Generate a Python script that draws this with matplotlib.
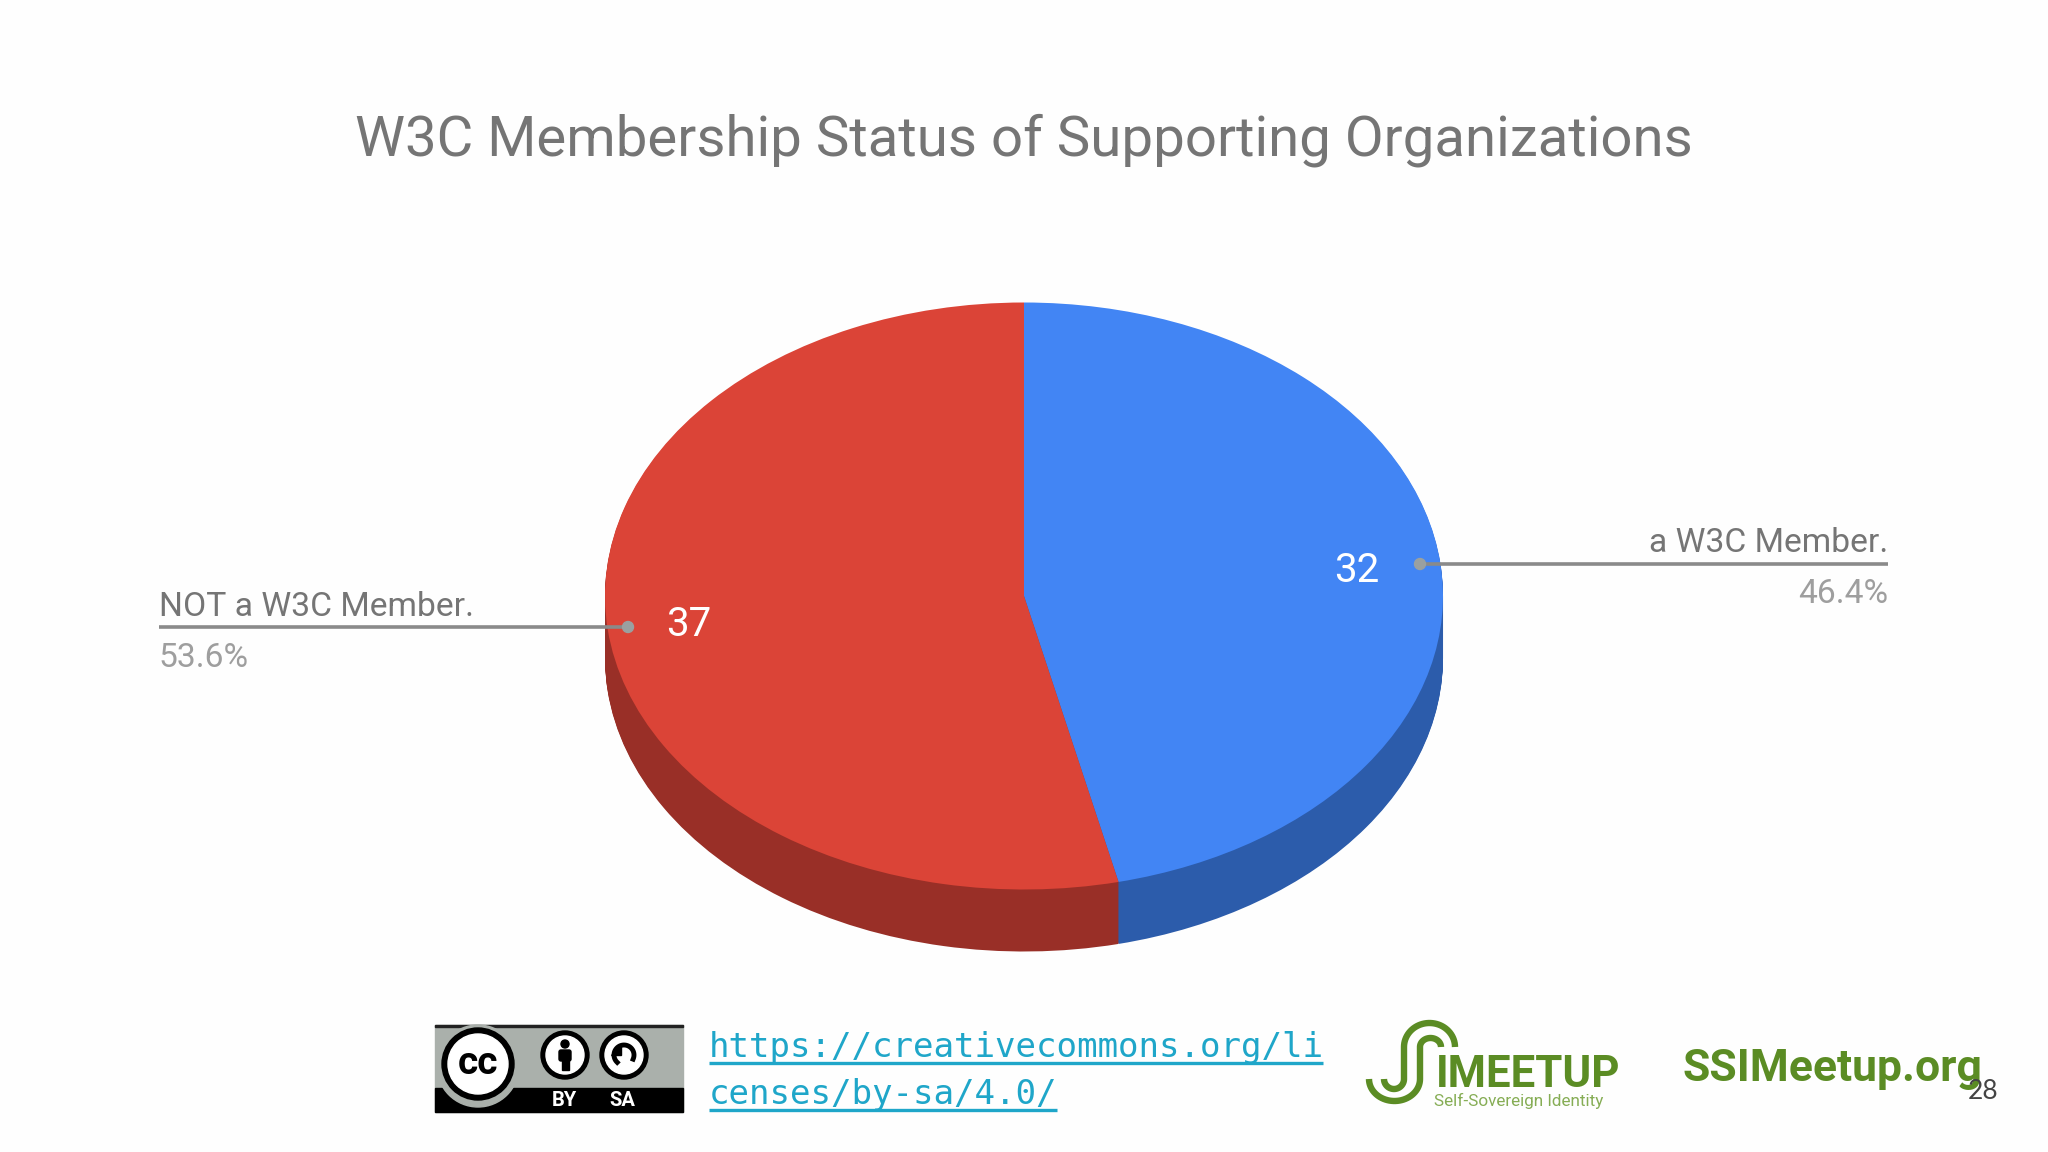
import numpy as np
import matplotlib
matplotlib.use('Agg')
import matplotlib.pyplot as plt
from matplotlib.patches import Circle, Rectangle, FancyBboxPatch

# chart data
title = 'W3C Membership Status of Supporting Organizations'
labels = ['a W3C Member.', 'NOT a W3C Member.']
values = [32, 37]
percents = ['46.4%', '53.6%']
top_colors = ['#4285f4', '#db4437']
side_colors = ['#2c5cab', '#992f27']

link_lines = ['https://creativecommons.org/li', 'censes/by-sa/4.0/']
green = '#5b8c24'

plt.rcParams['font.family'] = ['Roboto', 'DejaVu Sans']

W, H = 2048, 1152
fig = plt.figure(figsize=(W / 100, H / 100), dpi=100, facecolor='#fefefe')

# pie axes: top ellipse is 419 x 293 px around (1024, 596)
cx, cy, rx, ry, depth = 1024, 596, 419, 293.5, 62
pie_ax = fig.add_axes([(cx - rx) / W, 1 - (cy + ry + depth) / H, 2 * rx / W, (2 * ry + depth) / H])

# stack of dark pies makes the side wall
for off in np.arange(depth, 0, -1.0):
    pie_ax.pie(values, colors=side_colors, startangle=90, counterclock=False,
               center=(0, -off / ry), wedgeprops={'linewidth': 0})
pie_ax.pie(values, colors=top_colors, startangle=90, counterclock=False,
           center=(0, 0), wedgeprops={'linewidth': 0})
pie_ax.set_aspect('auto')
pie_ax.set_xlim(-1, 1)
pie_ax.set_ylim(-1 - depth / ry, 1)

# overlay in pixel coordinates
ax = fig.add_axes([0, 0, 1, 1], facecolor='none')
ax.set_xlim(0, W)
ax.set_ylim(H, 0)
ax.axis('off')

ax.text(1024, 140, title, color='#757575', fontsize=40.6, ha='center', va='center')

# callouts
ax.plot([1420, 1888], [564, 564], color='#8a8a8a', lw=2.6, solid_capstyle='butt')
ax.plot([159, 628], [627, 627], color='#8a8a8a', lw=2.6, solid_capstyle='butt')
ax.add_patch(Circle((1420, 564), 5.5, color='#9aa0a0', zorder=3))
ax.add_patch(Circle((628, 627), 5.5, color='#9aa0a0', zorder=3))

ax.text(1888, 552, labels[0], color='#757575', fontsize=24.2, ha='right', va='baseline')
ax.text(1888, 603, percents[0], color='#9e9e9e', fontsize=24.2, ha='right', va='baseline')
ax.text(159, 616, labels[1], color='#757575', fontsize=24.2, ha='left', va='baseline')
ax.text(158, 667, percents[1], color='#9e9e9e', fontsize=24.2, ha='left', va='baseline')
ax.text(1357, 570, str(values[0]), color='white', fontsize=29, ha='center', va='center')
ax.text(689, 624, str(values[1]), color='white', fontsize=29, ha='center', va='center')

# CC BY-SA badge
ax.add_patch(Rectangle((435, 1025), 248, 87, color='#aab0ab', zorder=2))
ax.add_patch(Rectangle((435, 1025), 248, 2, color='#222222', zorder=2))
ax.add_patch(Rectangle((435, 1088), 248, 24, color='black', zorder=2))
ax.add_patch(Circle((478, 1066), 41, color='#aab0ab', zorder=3))
ax.add_patch(Circle((478, 1064), 36, color='black', zorder=3))
ax.add_patch(Circle((478, 1064), 30, color='white', zorder=3))
ax.text(478, 1064, 'cc', color='black', fontsize=28, fontweight='bold', ha='center', va='center', zorder=4)
for bx in [565, 624]:
    ax.add_patch(Circle((bx, 1055), 24, color='black', zorder=3))
    ax.add_patch(Circle((bx, 1055), 19, color='white', zorder=3))
ax.add_patch(Circle((565, 1044), 4, color='black', zorder=4))
ax.add_patch(FancyBboxPatch((559, 1050), 12, 11, boxstyle='round,pad=0,rounding_size=2', color='black', zorder=4))
ax.add_patch(Rectangle((561.5, 1058), 7, 12, color='black', zorder=4))
t = np.linspace(-2.4, 2.0, 40)
ax.plot(624 + 10 * np.sin(t), 1055 - 10 * np.cos(t), color='black', lw=3.5, zorder=4)
ax.fill([611, 621, 621], [1055, 1055, 1046], color='black', zorder=4)
ax.text(564, 1100, 'BY', color='white', fontsize=14.5, fontweight='bold', ha='center', va='center', zorder=4)
ax.text(622, 1100, 'SA', color='white', fontsize=14.5, fontweight='bold', ha='center', va='center', zorder=4)

# link
link_color = '#1fa6c9'
ax.text(709, 1057, link_lines[0], color=link_color, fontsize=24.6, family=['DejaVu Sans Mono'], va='baseline')
ax.text(709, 1104, link_lines[1], color=link_color, fontsize=24.6, family=['DejaVu Sans Mono'], va='baseline')
ax.plot([709, 1323], [1063, 1063], color=link_color, lw=2.4, solid_capstyle='butt')
ax.plot([709, 1057], [1110, 1110], color=link_color, lw=2.4, solid_capstyle='butt')


# S shape of the logo, two strokes
def s_stroke(hook_l, hook_r, hook_ry, top_l, top_r, top_ry, y_low=1079, y_top=1047):
    a = np.linspace(np.pi, 0, 40)
    hx = (hook_l + hook_r) / 2 + (hook_r - hook_l) / 2 * np.cos(a)
    hy = y_low + hook_ry * np.sin(a)
    b = np.linspace(np.pi, 0, 40)
    tx = (top_l + top_r) / 2 + (top_r - top_l) / 2 * np.cos(b)
    ty = y_top - top_ry * np.sin(b)
    return np.r_[hx, tx], np.r_[hy, ty]


for args in [(1369, 1420, 22, 1420, 1441, 9), (1384, 1404, 10, 1404, 1455, 24)]:
    sx, sy = s_stroke(*args)
    ax.plot(sx, sy, color=green, lw=4.6, solid_capstyle='butt')

ax.text(1436, 1087, 'IMEETUP', color=green, fontsize=31.5, fontweight='bold', ha='left', va='baseline')
ax.text(1434, 1101, 'Self-Sovereign Identity', color='#86ad55', fontsize=12.3, ha='left', va='center')
ax.text(1683, 1081, 'SSIMeetup.org', color=green, fontsize=32, fontweight='bold', ha='left', va='baseline')
ax.text(1968, 1099, '28', color='#444444', fontsize=19, family=['Lato'], ha='left', va='baseline')

fig.savefig('out.png', dpi=100, facecolor=fig.get_facecolor())
